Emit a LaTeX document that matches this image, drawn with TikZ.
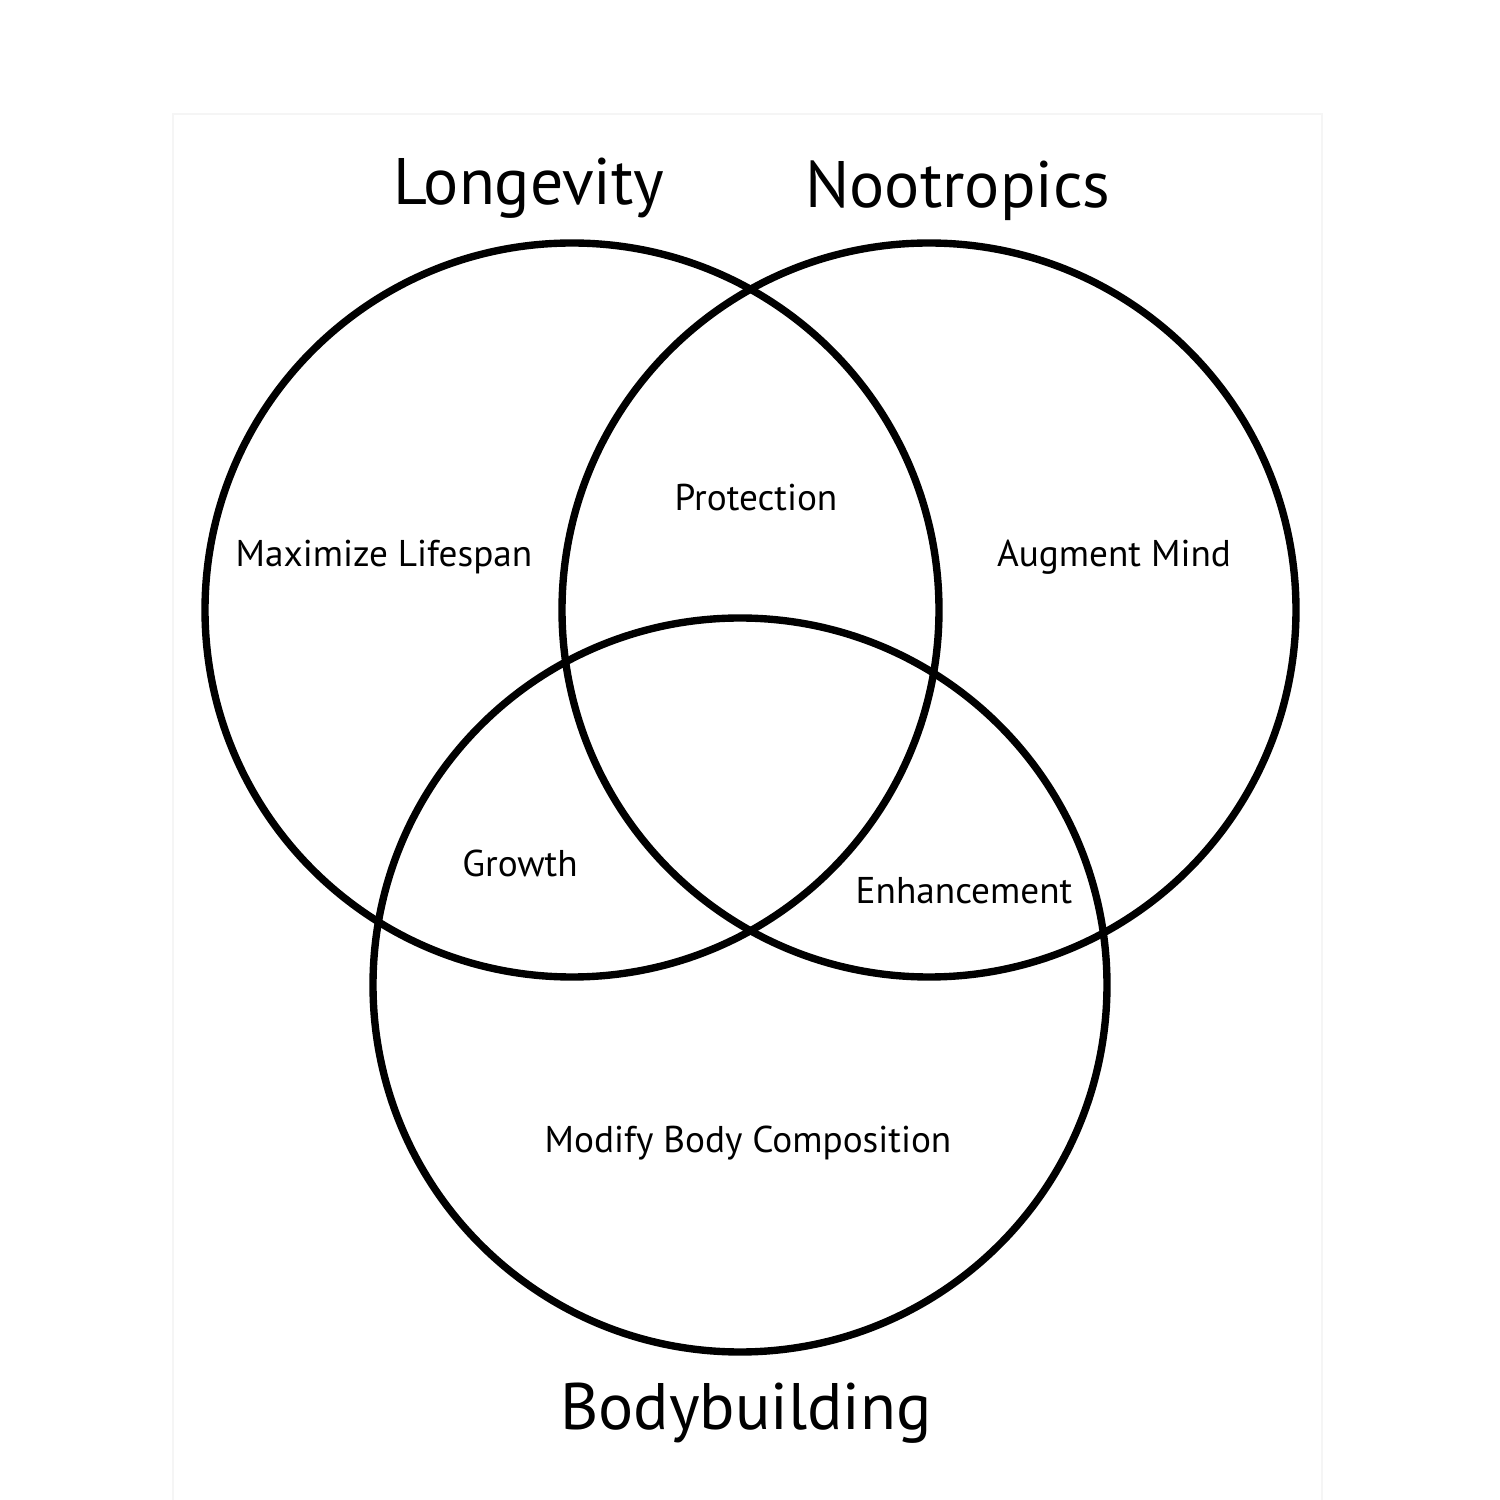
\documentclass[tikz,border=0pt]{standalone}
\usepackage{fontspec}
\setmainfont{PT Sans}
\begin{document}
\begin{tikzpicture}[
  ring/.style={draw=black, line width=2.1pt},
  big/.style={font=\fontsize{18.7}{20}\selectfont, anchor=base, inner sep=0pt},
  small/.style={font=\fontsize{10.6}{12}\selectfont, anchor=base, inner sep=0pt}
]
\useasboundingbox (0,0) rectangle (15,15);
\draw[draw=black!4, line width=0.4pt] (1.73,0) -- (1.73,13.86) -- (13.22,13.86) -- (13.22,0);
\draw[ring] (5.72,8.90) circle (3.67);
\draw[ring] (9.29,8.90) circle (3.67);
\draw[ring] (7.40,5.15) circle (3.67);
\node[big] (lon) at (5.29,12.95) {Longevity};
\node[big] (noo) at (9.58,12.92) {Nootropics};
\node[big] (bod) at (7.46,0.70) {Bodybuilding};
\node[small] (max) at (3.84,9.33) {Maximize Lifespan};
\node[small] (pro) at (7.56,9.89) {Protection};
\node[small] (aug) at (11.14,9.33) {Augment Mind};
\node[small] (gro) at (5.20,6.23) {Growth};
\node[small] (enh) at (9.64,5.96) {Enhancement};
\node[small] (mod) at (7.48,3.47) {Modify Body Composition};
\end{tikzpicture}
\end{document}
